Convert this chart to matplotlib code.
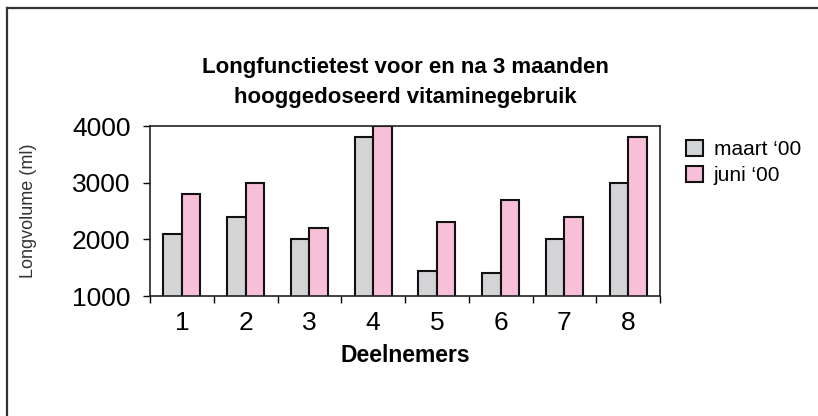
import matplotlib
matplotlib.use("Agg")
import matplotlib.pyplot as plt
from matplotlib.lines import Line2D
import numpy as np

plt.rcParams["font.family"] = ["Liberation Sans", "DejaVu Sans"]

deelnemers = ["1", "2", "3", "4", "5", "6", "7", "8"]
maart = [2100, 2400, 2000, 3800, 1450, 1400, 2000, 3000]
juni = [2800, 3000, 2200, 4000, 2300, 2700, 2400, 3800]

W, H = 818, 416
fig = plt.figure(figsize=(W / 100, H / 100), dpi=100)
ax = fig.add_axes([150 / W, (H - 296) / H, 510 / W, 170 / H])

x = np.arange(len(deelnemers)) + 0.5
bw = 0.29
ax.bar(x - bw / 2, maart, bw, color="#d3d4d6", edgecolor="#111111",
       linewidth=1.5, label="maart \u201800")
ax.bar(x + bw / 2, juni, bw, color="#f7c0d8", edgecolor="#111111",
       linewidth=1.5, label="juni \u201800")

ax.set_xlim(0, len(deelnemers))
ax.set_ylim(1000, 4000)
ax.set_yticks([1000, 2000, 3000, 4000])
ax.set_xticks(np.arange(len(deelnemers) + 1))
ax.set_xticklabels([])
ax.set_xticks(x, minor=True)
ax.set_xticklabels(deelnemers, minor=True)
ax.tick_params(axis="x", which="minor", length=0, pad=11, labelsize=19)
ax.tick_params(axis="x", which="major", length=5, width=1, direction="out")
ax.tick_params(axis="y", length=5, width=1, direction="out", labelsize=19, pad=9)
for s in ax.spines.values():
    s.set_linewidth(1.2)
    s.set_color("#222222")

ax.set_xlabel("Deelnemers", fontsize=16.5, fontweight="bold", labelpad=6)
ax.set_ylabel("Longvolume (ml)", fontsize=13, color="#333333")
ax.yaxis.set_label_coords((37 - 150) / 510, 0.5)
fig.text(405 / W, 1 - 67 / H, "Longfunctietest voor en na 3 maanden",
         ha="center", va="center", fontsize=16, fontweight="bold")
fig.text(405 / W, 1 - 97 / H, "hooggedoseerd vitaminegebruik",
         ha="center", va="center", fontsize=16, fontweight="bold")

leg = fig.legend(loc="upper left", bbox_to_anchor=(667 / W, 1 - 121 / H),
                 frameon=False, fontsize=15, handlelength=0.85,
                 handleheight=0.85, handletextpad=0.5, labelspacing=0.3)

# outer frame (only top and left edges visible)
fig.add_artist(Line2D([7 / W, 7 / W], [0, 1 - 8 / H], transform=fig.transFigure,
                      color="#333333", linewidth=1.6))
fig.add_artist(Line2D([7 / W, 1], [1 - 8 / H, 1 - 8 / H], transform=fig.transFigure,
                      color="#333333", linewidth=1.6))

fig.savefig("out.png", dpi=100)
